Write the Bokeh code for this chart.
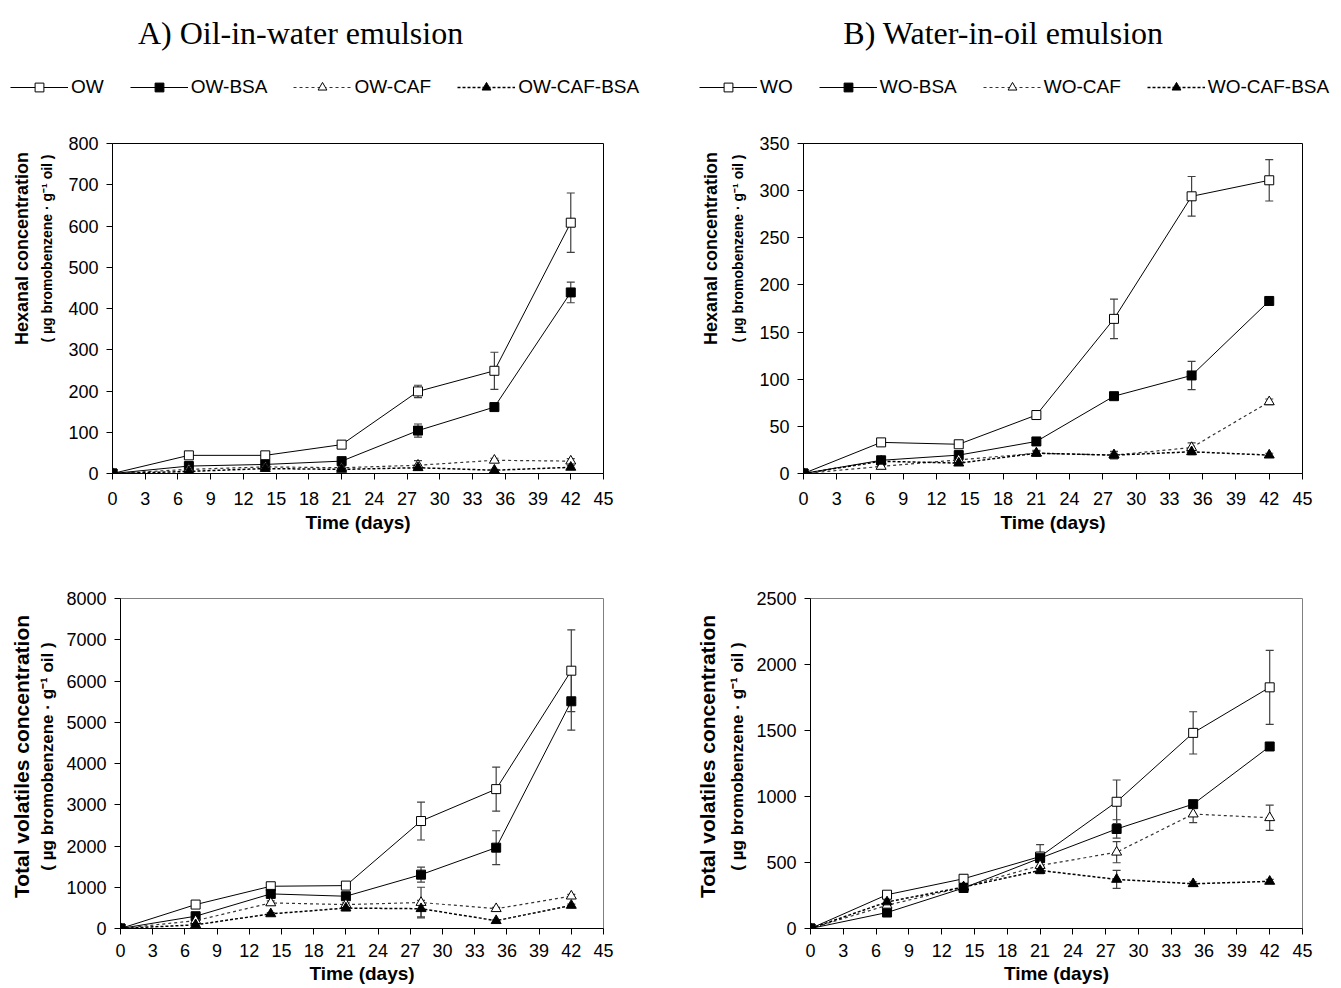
import numpy as np
from bokeh.plotting import figure
from bokeh.models import (ColumnDataSource, Whisker, TeeHead, Legend, LegendItem,
                          Label, FixedTicker, Range1d)
from bokeh.layouts import column, row
from bokeh.embed import file_html
from bokeh.resources import INLINE

# ---------------- data ----------------
days = [0, 7, 14, 21, 28, 35, 42]
x_ticks = [0, 3, 6, 9, 12, 15, 18, 21, 24, 27, 30, 33, 36, 39, 42, 45]

ow_names = ["OW", "OW-BSA", "OW-CAF", "OW-CAF-BSA"]
wo_names = ["WO", "WO-BSA", "WO-CAF", "WO-CAF-BSA"]

# Hexanal, oil-in-water
hex_ow = [0, 44, 44, 70, 199, 249, 608]
hex_ow_err = [0, 3, 3, 3, 15, 45, 72]
hex_ow_bsa = [0, 18, 22, 30, 104, 161, 439]
hex_ow_bsa_err = [0, 2, 2, 3, 16, 4, 25]
hex_ow_caf = [0, 10, 16, 14, 20, 32, 30]
hex_ow_caf_err = [0, 2, 2, 2, 11, 5, 6]
hex_ow_caf_bsa = [0, 5, 12, 10, 14, 8, 15]
hex_ow_caf_bsa_err = [0, 1, 2, 2, 6, 2, 4]

# Hexanal, water-in-oil
hex_wo = [0, 33, 31, 62, 164, 294, 311]
hex_wo_err = [0, 2, 2, 2, 21, 21, 22]
hex_wo_bsa = [0, 14, 19.5, 34, 82, 104, 183]
hex_wo_bsa_err = [0, 2, 2, 4, 2, 15, 4]
hex_wo_caf = [0, 7.5, 14.5, 21.5, 19.5, 27.5, 76]
hex_wo_caf_err = [0, 1, 2, 2, 2, 5, 3]
hex_wo_caf_bsa = [0, 13, 11, 21.5, 19.5, 23, 19.5]
hex_wo_caf_bsa_err = [0, 2, 2, 3, 4, 3, 2]

# Total volatiles, oil-in-water
tot_ow = [0, 580, 1024, 1040, 2605, 3379, 6250]
tot_ow_err = [0, 40, 40, 40, 460, 535, 990]
tot_ow_bsa = [0, 298, 839, 782, 1306, 1960, 5508]
tot_ow_bsa_err = [0, 30, 40, 40, 180, 410, 700]
tot_ow_caf = [0, 190, 620, 580, 630, 480, 785]
tot_ow_caf_err = [0, 20, 50, 40, 370, 30, 40]
tot_ow_caf_bsa = [0, 90, 355, 495, 480, 190, 560]
tot_ow_caf_bsa_err = [0, 10, 30, 60, 200, 20, 30]

# Total volatiles, water-in-oil
tot_wo = [0, 256, 377, 545, 960, 1482, 1827]
tot_wo_err = [0, 20, 30, 90, 165, 160, 280]
tot_wo_bsa = [0, 121, 307, 533, 754, 942, 1379]
tot_wo_bsa_err = [0, 10, 15, 20, 70, 20, 15]
tot_wo_caf = [0, 176, 314, 477, 578, 867, 839]
tot_wo_caf_err = [0, 15, 20, 30, 80, 65, 95]
tot_wo_caf_bsa = [0, 201, 314, 440, 372, 339, 357]
tot_wo_caf_bsa_err = [0, 15, 20, 25, 68, 15, 15]

hex_ow_ticks = [0, 100, 200, 300, 400, 500, 600, 700, 800]
hex_wo_ticks = [0, 50, 100, 150, 200, 250, 300, 350]
tot_ow_ticks = [0, 1000, 2000, 3000, 4000, 5000, 6000, 7000, 8000]
tot_wo_ticks = [0, 500, 1000, 1500, 2000, 2500]

# ---------------- styling ----------------
STYLES = [
    dict(marker="square", fill="white", dash="solid", lw=1.0, color="black", size=9),
    dict(marker="square", fill="black", dash="solid", lw=1.0, color="black", size=9),
    dict(marker="triangle", fill="white", dash="3 3", lw=1.2, color="#333333", size=10),
    dict(marker="triangle", fill="black", dash="3 2", lw=1.5, color="black", size=10),
]
SANS = "Liberation Sans"
SERIF = "Liberation Serif"
UNIT = "( \u00b5g bromobenzene \u00b7 g\u207b\u00b9 oil )"


def blank(width, height, rng=(0, 1)):
    p = figure(width=width, height=height, output_backend="svg", toolbar_location=None,
               x_range=Range1d(*rng), y_range=Range1d(*rng), min_border=0,
               x_axis_location=None, y_axis_location=None)
    p.grid.visible = False
    p.outline_line_color = None
    return p


def add_series(p, series):
    rends = []
    for (vals, errs), st in zip(series, STYLES):
        src = ColumnDataSource(dict(x=days, y=vals))
        esrc = ColumnDataSource(dict(x=[d for d, e in zip(days, errs) if e > 0],
                                     upper=[v + e for v, e in zip(vals, errs) if e > 0],
                                     lower=[v - e for v, e in zip(vals, errs) if e > 0]))
        p.add_layout(Whisker(base="x", upper="upper", lower="lower", source=esrc,
                             line_color="#404040", line_width=1.2,
                             upper_head=TeeHead(size=8, line_color="#404040", line_width=1.2),
                             lower_head=TeeHead(size=8, line_color="#404040", line_width=1.2)))
        lr = p.line("x", "y", source=src, line_color=st["color"], line_width=st["lw"],
                    line_dash=st["dash"])
        sr = p.scatter("x", "y", source=src, marker=st["marker"], size=st["size"],
                       fill_color=st["fill"], line_color="black", line_width=1)
        rends.append((lr, sr))
    return rends


def make_panel(series, yticks, width, height, borders, outline, xstand, lstand):
    bl, br, bt, bb = borders
    p = figure(width=width, height=height, output_backend="svg", toolbar_location=None,
               x_range=Range1d(0, 45), y_range=Range1d(0, yticks[-1]),
               min_border_left=bl, min_border_right=br, min_border_top=bt,
               min_border_bottom=bb)
    p.xgrid.visible = False
    p.ygrid.visible = False
    p.outline_line_color = outline
    for ax in (p.xaxis[0], p.yaxis[0]):
        ax.axis_line_color = "black"
        ax.major_tick_line_color = "black"
        ax.major_tick_out = 6
        ax.major_tick_in = 0
        ax.minor_tick_line_color = None
        ax.major_label_text_font = SANS
        ax.major_label_text_font_size = "18px"
        ax.major_label_text_color = "black"
    p.yaxis[0].major_label_standoff = 8
    p.xaxis[0].major_label_standoff = xstand
    p.xaxis[0].ticker = FixedTicker(ticks=x_ticks)
    p.yaxis[0].ticker = FixedTicker(ticks=yticks)
    p.xaxis[0].axis_label = "Time (days)"
    p.xaxis[0].axis_label_text_font = SANS
    p.xaxis[0].axis_label_text_font_style = "bold"
    p.xaxis[0].axis_label_text_font_size = "19px"
    p.xaxis[0].axis_label_text_color = "black"
    p.xaxis[0].axis_label_standoff = lstand
    add_series(p, series)
    return p


def ylabel_fig(width, height, line1, line2, x1, x2, yc, s1, s2):
    f = blank(width, height)
    for txt, lx, sz in ((line1, x1, s1), (line2, x2, s2)):
        f.add_layout(Label(x=lx, y=yc, x_units="screen", y_units="screen", text=txt,
                           angle=np.pi / 2, text_align="center", text_baseline="middle",
                           text_font=SANS, text_font_style="bold",
                           text_font_size=sz, text_color="black"))
    return f


ow_hex_series = [(hex_ow, hex_ow_err), (hex_ow_bsa, hex_ow_bsa_err),
                 (hex_ow_caf, hex_ow_caf_err), (hex_ow_caf_bsa, hex_ow_caf_bsa_err)]
wo_hex_series = [(hex_wo, hex_wo_err), (hex_wo_bsa, hex_wo_bsa_err),
                 (hex_wo_caf, hex_wo_caf_err), (hex_wo_caf_bsa, hex_wo_caf_bsa_err)]
ow_tot_series = [(tot_ow, tot_ow_err), (tot_ow_bsa, tot_ow_bsa_err),
                 (tot_ow_caf, tot_ow_caf_err), (tot_ow_caf_bsa, tot_ow_caf_bsa_err)]
wo_tot_series = [(tot_wo, tot_wo_err), (tot_wo_bsa, tot_wo_bsa_err),
                 (tot_wo_caf, tot_wo_caf_err), (tot_wo_caf_bsa, tot_wo_caf_bsa_err)]

# ---------------- header: titles and legends ----------------
# (the header's ranges lie outside the data, so only its legend keys show)
HDR_H = 104
hdr = blank(1341, HDR_H, rng=(1000, 1001))
for title, cx in (("A) Oil-in-water emulsion", 300), ("B) Water-in-oil emulsion", 1003)):
    hdr.add_layout(Label(x=cx, y=HDR_H - 32, x_units="screen", y_units="screen",
                         text=title, text_align="center", text_baseline="middle",
                         text_font=SERIF, text_font_size="32px", text_color="black"))
for names, series, lx in ((ow_names, ow_hex_series, 10), (wo_names, wo_hex_series, 699)):
    rends = add_series(hdr, series)
    items = [LegendItem(label=n, renderers=[lr, sr]) for n, (lr, sr) in zip(names, rends)]
    hdr.add_layout(Legend(items=items, orientation="horizontal",
                          location=(lx, HDR_H - 98),
                          glyph_width=58, glyph_height=22, label_standoff=3, spacing=26,
                          padding=0, margin=0, border_line_color=None,
                          background_fill_alpha=0, label_text_font=SANS,
                          label_text_font_size="19px", label_height=22,
                          label_text_color="black"))

# ---------------- rows ----------------
TOP_H = 437     # page y 104 .. 541, frame 143 .. 473
BOT_H = 447     # page y 541 .. 988, frame 598 .. 928

p1 = make_panel(ow_hex_series, hex_ow_ticks, 610, TOP_H, (52, 67, 39, 68), "black", 12, 4)
p2 = make_panel(wo_hex_series, hex_wo_ticks, 591, TOP_H, (53, 39, 39, 68), "black", 12, 4)
p3 = make_panel(ow_tot_series, tot_ow_ticks, 610, BOT_H, (60, 67, 57, 60), "#808080", 9, 3)
p4 = make_panel(wo_tot_series, tot_wo_ticks, 591, BOT_H, (60, 39, 57, 60), "#808080", 9, 3)

la1 = ylabel_fig(60, TOP_H, "Hexanal concentration", UNIT, 21, 46, 225, "18px", "14px")
lb1 = ylabel_fig(80, TOP_H, "Hexanal concentration", UNIT, 40, 67, 225, "18px", "14px")
la2 = ylabel_fig(60, BOT_H, "Total volatiles concentration", UNIT, 21, 47, 172, "21px", "17px")
lb2 = ylabel_fig(80, BOT_H, "Total volatiles concentration", UNIT, 37, 67, 172, "21px", "17px")

layout = column(hdr, row(la1, p1, lb1, p2), row(la2, p3, lb2, p4))
open("out.html", "w").write(file_html(layout, INLINE))
